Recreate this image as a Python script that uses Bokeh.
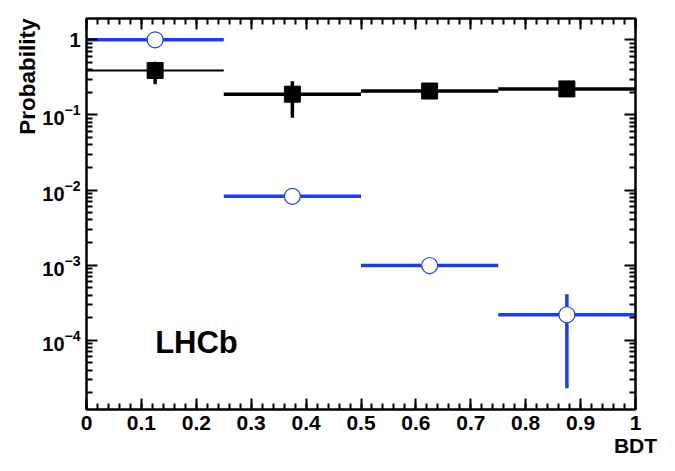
from bokeh.plotting import figure
from bokeh.models import (LogAxis, LinearAxis, FixedTicker, ColumnDataSource,
                          Label, Range1d, Title)
from bokeh.embed import file_html
from bokeh.resources import INLINE

# ---- data ----
bin_lo = [0.0, 0.25, 0.5, 0.75]
bin_hi = [0.25, 0.5, 0.75, 1.0]
bin_center = [0.125, 0.375, 0.625, 0.875]

sig_val = [0.39, 0.189, 0.208, 0.222]
sig_err_lo = [0.255, 0.092, 0.198, 0.213]
sig_err_hi = [0.51, 0.28, 0.218, 0.231]

bkg_val = [1.0, 0.00826, 0.00099, 0.000219]
bkg_err_lo = [0.99, 0.0082, 0.00076, 2.3e-5]
bkg_err_hi = [1.0, 0.0083, 0.00102, 0.00041]

x_ticks = [0.0, 0.1, 0.2, 0.3, 0.4, 0.5, 0.6, 0.7, 0.8, 0.9, 1.0]
y_ticks = [1e-4, 1e-3, 1e-2, 1e-1, 1.0]

# ---- styles ----
FONT = "Liberation Sans"
BLUE = "#1e3ee6"
sig_widths = [2, 3.5, 3.5, 3.5]

x_minor = [round(i * 0.02, 4) for i in range(51)]
y_minor = [k * 10.0 ** e for e in range(-5, 1) for k in range(2, 10)]

p = figure(width=667, height=463, x_range=Range1d(0, 1),
           y_range=Range1d(1.2e-5, 1.92), y_axis_type="log",
           output_backend="svg", toolbar_location=None,
           min_border_left=86, min_border_right=32,
           min_border_top=18, min_border_bottom=54)
p.grid.visible = False
p.outline_line_color = "black"
p.outline_line_width = 2

bottom = p.below[0]
left = p.left[0]

xt = FixedTicker(ticks=x_ticks, minor_ticks=x_minor)
yt = FixedTicker(ticks=y_ticks, minor_ticks=y_minor)

top = LinearAxis(ticker=xt)
right = LogAxis(ticker=yt)
p.add_layout(top, "above")
p.add_layout(right, "right")

bottom.ticker = xt
left.ticker = yt

for ax in [bottom, left, top, right]:
    ax.axis_line_width = 2
    ax.major_tick_in = 11
    ax.major_tick_out = 0
    ax.minor_tick_in = 6
    ax.minor_tick_out = 0
    ax.major_tick_line_width = 2
    ax.minor_tick_line_width = 2
    ax.major_label_text_font = FONT
    ax.major_label_text_font_style = "bold"
    ax.major_label_text_font_size = "21px"
    ax.major_label_text_color = "black"

for ax in [top, right]:
    ax.major_label_text_font_size = "1px"
    ax.major_label_text_color = None
    ax.major_label_standoff = 0

bottom.major_label_standoff = 6
left.major_label_standoff = 6
left.major_label_text_font_size = "20px"
left.major_label_overrides = {1.0: "1"}

bottom.axis_label = "BDT"
bottom.axis_label_text_font = FONT
bottom.axis_label_text_font_style = "bold"
bottom.axis_label_text_font_size = "21px"
bottom.axis_label_text_color = "black"
bottom.axis_label_standoff = 1
bottom.axis_label_align = "end"

# y title on the left side, aligned to the top end
p.add_layout(Title(text="Probability", align="right", text_font=FONT,
                   text_font_style="bold", text_font_size="22.5px",
                   text_color="black", offset=0, standoff=0), "left")

# signal (black)
sig = ColumnDataSource(dict(lo=bin_lo, hi=bin_hi, c=bin_center, v=sig_val,
                            el=sig_err_lo, eh=sig_err_hi, w=sig_widths))
p.segment(x0="lo", x1="hi", y0="v", y1="v", line_width="w",
          line_color="black", source=sig)
p.segment(x0="c", x1="c", y0="el", y1="eh", line_width=3.5,
          line_color="black", source=sig)
p.scatter(x="c", y="v", marker="square", size=16, fill_color="black",
          line_color="black", source=sig)

# background (blue)
bkg = ColumnDataSource(dict(lo=bin_lo, hi=bin_hi, c=bin_center, v=bkg_val,
                            el=bkg_err_lo, eh=bkg_err_hi))
p.segment(x0="lo", x1="hi", y0="v", y1="v", line_width=3.5,
          line_color=BLUE, source=bkg)
p.segment(x0="c", x1="c", y0="el", y1="eh", line_width=3.5,
          line_color=BLUE, source=bkg)
p.scatter(x="c", y="v", marker="circle", size=16, fill_color="white",
          line_color=BLUE, line_width=1.2, source=bkg)

p.add_layout(Label(x=0.125, y=9.4e-5, text="LHCb", text_font=FONT,
                   text_font_style="bold", text_font_size="31px",
                   text_color="black", text_baseline="alphabetic"))

open("out.html", "w").write(file_html(p, INLINE))
